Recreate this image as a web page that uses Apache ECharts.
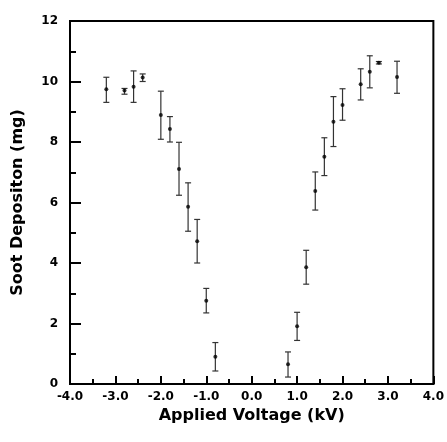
<!DOCTYPE html>
<html>
<head>
    <meta charset="utf-8"/>
    <title>Soot deposition vs applied voltage</title>
    <script src="https://cdn.jsdelivr.net/npm/echarts@6/dist/echarts.min.js"></script>
    <style>
        html, body { margin: 0; padding: 0; background: #fff; }
    </style>
</head>
<body>
    <div id="myChart" style="width: 447px; height: 442px;"></div>
<script type="text/javascript">
    // applied voltage (kV) and measured soot (mg), with error bar ends
    var voltage = [-3.2, -2.8, -2.6, -2.4, -2.0, -1.8, -1.6, -1.4, -1.2, -1.0, -0.8,
                   0.8, 1.0, 1.2, 1.4, 1.6, 1.8, 2.0, 2.4, 2.6, 2.8, 3.2];
    var soot = [9.74, 9.70, 9.83, 10.13, 8.89, 8.43, 7.11, 5.86, 4.72, 2.75, 0.90,
                0.65, 1.91, 3.86, 6.38, 7.51, 8.67, 9.22, 9.91, 10.32, 10.62, 10.15];
    var errLow = [9.31, 9.58, 9.31, 10.00, 8.09, 8.00, 6.24, 5.05, 4.00, 2.35, 0.43,
                  0.23, 1.44, 3.30, 5.75, 6.89, 7.85, 8.72, 9.39, 9.79, 10.58, 9.61];
    var errHigh = [10.14, 9.77, 10.35, 10.25, 9.68, 8.84, 7.99, 6.65, 5.44, 3.16, 1.37,
                   1.06, 2.37, 4.42, 7.01, 8.14, 9.50, 9.76, 10.42, 10.85, 10.66, 10.67];

    var myChart = echarts.init(document.getElementById('myChart'));

    var points = voltage.map(function (v, i) { return [v, soot[i]]; });
    var bars = voltage.map(function (v, i) { return [v, errLow[i], errHigh[i]]; });

    var font = '"DejaVu Sans", "Liberation Sans", Arial, sans-serif';

    var option = {
        animation: false,
        backgroundColor: '#fff',
        grid: {
            left: 70, right: 7, top: 21, bottom: 58,
            show: true, borderColor: '#000', borderWidth: 2
        },
        xAxis: {
            type: 'value',
            min: -4, max: 4, interval: 1,
            name: 'Applied Voltage (kV)',
            nameLocation: 'middle',
            nameGap: 22,
            nameTextStyle: { fontFamily: font, fontWeight: 'bold', fontSize: 16, color: '#000' },
            axisLine: { onZero: false, lineStyle: { color: '#000', width: 2 } },
            axisTick: { inside: true, length: 8, lineStyle: { color: '#000', width: 2 } },
            minorTick: { show: true, splitNumber: 2, length: 5, lineStyle: { color: '#000', width: 2 } },
            splitLine: { show: false },
            axisLabel: {
                fontFamily: font, fontWeight: 'bold', fontSize: 12, color: '#000', margin: 7,
                formatter: function (v) { return v.toFixed(1); }
            }
        },
        yAxis: {
            type: 'value',
            min: 0, max: 12, interval: 2,
            name: 'Soot Depositon (mg)',
            nameLocation: 'middle',
            nameGap: 44,
            nameTextStyle: { fontFamily: font, fontWeight: 'bold', fontSize: 16, color: '#000' },
            axisLine: { onZero: false, lineStyle: { color: '#000', width: 2 } },
            axisTick: { inside: true, length: 11, lineStyle: { color: '#000', width: 2 } },
            minorTick: { show: true, splitNumber: 2, length: 6, lineStyle: { color: '#000', width: 2 } },
            splitLine: { show: false },
            axisLabel: {
                fontFamily: font, fontWeight: 'bold', fontSize: 12, color: '#000', margin: 12
            }
        },
        series: [{
            type: 'custom',
            data: bars,
            renderItem: function (params, api) {
                var x = api.value(0);
                var lo = api.coord([x, api.value(1)]);
                var hi = api.coord([x, api.value(2)]);
                var w = 3;
                var style = { stroke: '#333', lineWidth: 1.2 };
                return {
                    type: 'group',
                    children: [
                        { type: 'line', shape: { x1: lo[0], y1: lo[1], x2: hi[0], y2: hi[1] }, style: style },
                        { type: 'line', shape: { x1: hi[0] - w, y1: hi[1], x2: hi[0] + w, y2: hi[1] }, style: style },
                        { type: 'line', shape: { x1: lo[0] - w, y1: lo[1], x2: lo[0] + w, y2: lo[1] }, style: style }
                    ]
                };
            },
            z: 2
        }, {
            type: 'scatter',
            data: points,
            symbol: 'circle',
            symbolSize: 4,
            itemStyle: { color: '#000' },
            z: 3
        }]
    };
    myChart.setOption(option);
</script>
</body>
</html>
